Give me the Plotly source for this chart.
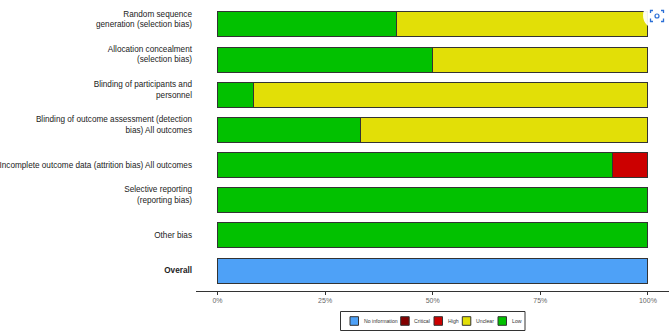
import plotly.graph_objects as go

categories = [
    "Random sequence<br>generation (selection bias)",
    "Allocation concealment<br>(selection bias)",
    "Blinding of participants and<br>personnel",
    "Blinding of outcome assessment (detection<br>bias) All outcomes",
    "Incomplete outcome data (attrition bias) All outcomes",
    "Selective reporting<br>(reporting bias)",
    "Other bias",
    "<b>Overall</b>",
]
no_information = [0, 0, 0, 0, 0, 0, 0, 100]
critical = [0, 0, 0, 0, 0, 0, 0, 0]
high = [0, 0, 0, 0, 8.33, 0, 0, 0]
unclear = [58.33, 50, 91.67, 66.67, 0, 0, 0, 0]
low = [41.67, 50, 8.33, 33.33, 91.67, 100, 100, 0]
tick_vals = [0, 25, 50, 75, 100]
tick_labels = ["0%", "25%", "50%", "75%", "100%"]
legend_names = ["No information", "Critical", "High", "Unclear", "Low"]
legend_colors = ["#4EA1F7", "#820000", "#CC0000", "#E2DF07", "#02C100"]
legend_swatch_x = [350, 400.7, 434, 462.3, 498]
W, H = 669, 332
L, B_Y = 196, 291

# two-line labels sit slightly above their bars in the reference
y_tick_text = [c + "<br> " if "<br>" in c else c for c in categories]

fig = go.Figure()
stack = [("Low", low, "#02C100"), ("Unclear", unclear, "#E2DF07"), ("High", high, "#CC0000"),
         ("Critical", critical, "#820000"), ("No information", no_information, "#4EA1F7")]
for name, vals, col in stack:
    fig.add_trace(go.Bar(y=categories, x=vals, name=name, orientation="h", width=0.71,
                         marker=dict(color=col, line=dict(color="#333333", width=1)),
                         showlegend=False))

shapes, annotations = [], []
def px(x): return (x - L) / (W - L)
def py(y): return (B_Y - y) / B_Y
shapes.append(dict(type="rect", xref="paper", yref="paper", x0=px(340.5), x1=px(525), y0=py(311.5), y1=py(330.5),
                   line=dict(color="#333333", width=1), fillcolor="white"))
for name, col, sx in zip(legend_names, legend_colors, legend_swatch_x):
    shapes.append(dict(type="rect", xref="paper", yref="paper", x0=px(sx), x1=px(sx + 8.5), y0=py(316.7), y1=py(325.3),
                       line=dict(color="#333333", width=1), fillcolor=col))
    annotations.append(dict(xref="paper", yref="paper", x=px(sx + 12.5), y=py(321), text=name, showarrow=False,
                            xanchor="left", yanchor="middle", xshift=-1, font=dict(size=5.2, color="#333333",
                            family="Liberation Sans")))

# screenshot overlay button at the top right of the reference
shapes.append(dict(type="circle", xref="paper", yref="paper", x0=px(643), x1=px(670), y0=py(2), y1=py(29),
                   line=dict(width=0), fillcolor="rgba(255,255,255,0.92)"))
bracket = ""
for (a, b, c, d, e, f) in [(650.5, 13, 650.5, 10.5, 653, 10.5), (661, 10.5, 663.5, 10.5, 663.5, 13),
                           (663.5, 18.5, 663.5, 21.5, 661, 21.5), (653, 21.5, 650.5, 21.5, 650.5, 18.5)]:
    bracket += f"M{px(a)},{py(b)} L{px(c)},{py(d)} L{px(e)},{py(f)} "
shapes.append(dict(type="path", xref="paper", yref="paper", path=bracket, line=dict(color="#2B6FD6", width=1.3)))
shapes.append(dict(type="circle", xref="paper", yref="paper", x0=px(655), x1=px(659), y0=py(14), y1=py(18),
                   line=dict(color="#2B6FD6", width=1.2), fillcolor="white"))

fig.update_layout(
    width=W, height=H, barmode="stack", paper_bgcolor="white", plot_bgcolor="white",
    margin=dict(l=L, r=0, t=0, b=H - B_Y, autoexpand=False), showlegend=False,
    font=dict(family="Liberation Sans", size=8.2, color="#333333"),
    shapes=shapes, annotations=annotations,
    xaxis=dict(range=[-5, 104.9], tickvals=tick_vals, ticktext=tick_labels, showgrid=False, zeroline=False,
               showline=True, linecolor="#333333", linewidth=1, ticks="outside", ticklen=3, tickcolor="#333333",
               tickfont=dict(size=7, color="#666666")),
    yaxis=dict(categoryorder="array", categoryarray=categories, range=[7.58, -0.696], showgrid=False,
               zeroline=False, showline=False, ticks="", ticklabelstandoff=3, automargin=False,
               tickmode="array", tickvals=categories, ticktext=y_tick_text,
               tickfont=dict(size=8.2, color="#222222")),
)
fig.write_html("out.html", post_script="document.body.style.margin='0';", config=dict(displayModeBar=False))
